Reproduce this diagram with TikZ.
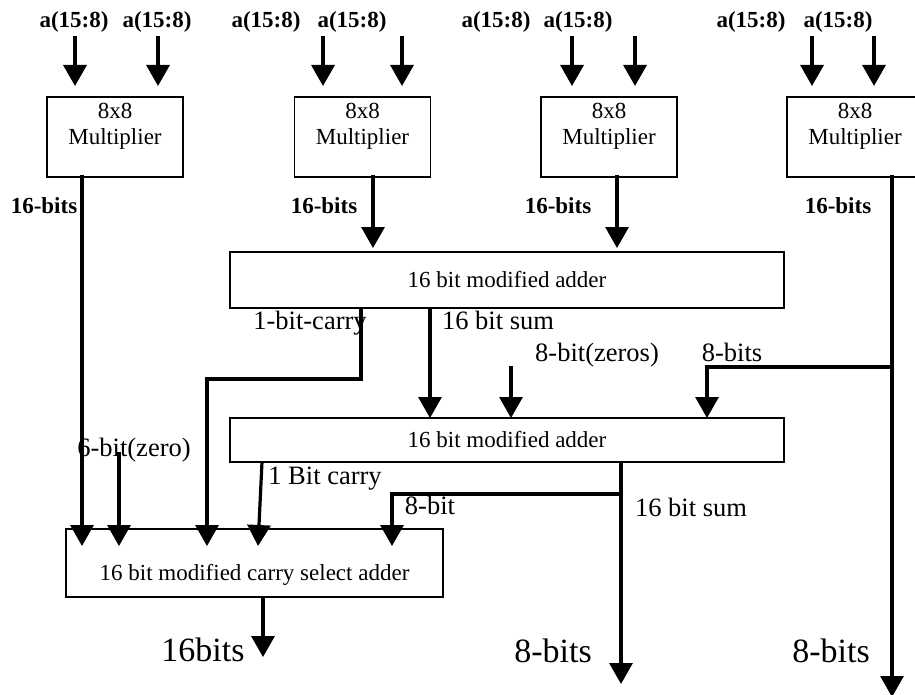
\documentclass[tikz,border=0pt]{standalone}
\usepackage{fontspec}
\setmainfont{Liberation Serif}
\usetikzlibrary{arrows.meta}
\begin{document}
\begin{tikzpicture}[x=1pt,y=-1pt,
  boxline/.style={draw, line width=1.4pt, rectangle, inner sep=0pt, align=center},
  mult/.style={boxline, minimum width=136pt, minimum height=80pt, font=\fontsize{23}{26}\selectfont},
  adder/.style={boxline, minimum width=554pt, font=\fontsize{23}{27}\selectfont},
  arr/.style={line width=3.2pt, -{Triangle[width=23pt,length=21pt]}},
  lab/.style={inner sep=0pt, text height=0.7em, text depth=0pt},
  boldlab/.style={lab, font=\fontsize{23}{27}\selectfont\bfseries},
  midlab/.style={lab, font=\fontsize{26.5}{30}\selectfont},
  biglab/.style={lab, font=\fontsize{34}{38}\selectfont}]
\useasboundingbox (0,0) rectangle (915,695);
\clip (0,0) rectangle (915,695);

% multipliers
\node[mult] (m1) at (115,137) {8x8\\Multiplier\\\mbox{}};
\node[mult] (m2) at (362.5,137) {8x8\\Multiplier\\\mbox{}};
\node[mult] (m3) at (609,137) {8x8\\Multiplier\\\mbox{}};
\node[mult] (m4) at (855,137) {8x8\\Multiplier\\\mbox{}};

% adders
\node[adder, minimum height=56pt] (ad1) at (507,280) {16 bit modified adder};
\node[adder, minimum height=44pt] (ad2) at (507,440) {16 bit modified adder};
\node[boxline, minimum width=377pt, minimum height=68pt, font=\fontsize{23}{27}\selectfont] (csa) at (254.5,563)
  {\raisebox{-12pt}[\height][\depth]{16 bit modified carry select adder}};

% top labels
\foreach \n/\x in {1a/74,1b/157,2a/266,2b/352,3a/496,3b/578,4a/751,4b/838}
  \node[boldlab] (la\n) at (\x,24) {a(15:8)};
% top input arrows
\foreach \n/\x in {1a/75,1b/158,2a/323,2b/402,3a/572,3b/635,4a/812,4b/874}{
  \coordinate (in\n) at (\x,36);
  \coordinate (tp\n) at (\x,86);
  \draw[arr] (in\n) -- (tp\n);
}
% 16-bits labels
\node[boldlab] (b1) at (44,210) {16-bits};
\node[boldlab] (b2) at (324,210) {16-bits};
\node[boldlab] (b3) at (558,210) {16-bits};
\node[boldlab] (b4) at (838,210) {16-bits};

% coordinates
\coordinate (o1) at (82,175);   \coordinate (c1) at (82,546);
\coordinate (o2) at (373,175);  \coordinate (a1l) at (373,248);
\coordinate (o3) at (617,175);  \coordinate (a1r) at (617,248);
\coordinate (o4) at (892,175);  \coordinate (e4) at (892,697);
\coordinate (j4) at (892,367);  \coordinate (k4) at (707,367); \coordinate (a2r) at (707,418);
\coordinate (cy1) at (361,308); \coordinate (cy1b) at (361,379); \coordinate (cy1c) at (207,379); \coordinate (c3) at (207,546);
\coordinate (s1) at (430,308);  \coordinate (a2l) at (430,418);
\coordinate (z0) at (511,366);  \coordinate (a2m) at (511,418);
\coordinate (cy2) at (262,462); \coordinate (c4) at (258,546);
\coordinate (s2) at (621,462);  \coordinate (e2) at (621,684);
\coordinate (j2) at (621,494);  \coordinate (k2) at (392,494); \coordinate (c5) at (392,546);
\coordinate (zz) at (119,452);  \coordinate (c2) at (119,546);
\coordinate (co) at (263,597);  \coordinate (ce) at (263,657);

% connectors
\draw[arr] (o1) -- (c1);
\draw[arr] (o2) -- (a1l);
\draw[arr] (o3) -- (a1r);
\draw[arr] (o4) -- (e4);
\draw[arr] (j4) -- (k4) -- (a2r);
\draw[arr] (cy1) -- (cy1b) -- (cy1c) -- (c3);
\draw[arr] (s1) -- (a2l);
\draw[arr] (z0) -- (a2m);
\draw[arr] (cy2) -- (c4);
\draw[arr] (s2) -- (e2);
\draw[arr] (j2) -- (k2) -- (c5);
\draw[arr] (zz) -- (c2);
\draw[arr] (co) -- (ce);

% labels
\node[midlab] (l1) at (310,326) {1-bit-carry};
\node[midlab] (l2) at (498,326) {16 bit sum};
\node[midlab] (l3) at (597,358) {8-bit(zeros)};
\node[midlab] (l4) at (732,358) {8-bits};
\node[midlab] (l5) at (134,453) {6-bit(zero)};
\node[midlab] (l6) at (325,481) {1 Bit carry};
\node[midlab] (l7) at (430,511) {8-bit};
\node[midlab] (l8) at (691,513) {16 bit sum};
\node[biglab] (g1) at (203,658) {16bits};
\node[biglab] (g2) at (553,659) {8-bits};
\node[biglab] (g3) at (831,659) {8-bits};
\end{tikzpicture}
\end{document}
